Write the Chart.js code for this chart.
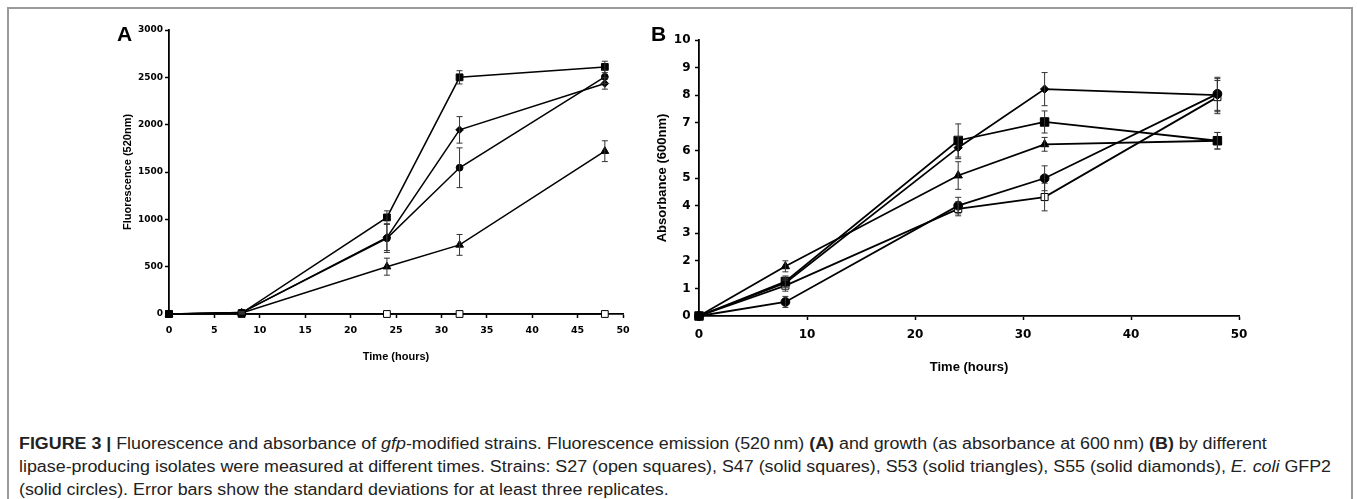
<!DOCTYPE html>
<html>
<head>
<meta charset="utf-8">
<script src="https://cdn.jsdelivr.net/npm/chart.js@4.4.1/dist/chart.umd.min.js"></script>
<style>
  html, body { margin: 0; padding: 0; background: #fff; width: 1357px; height: 499px; overflow: hidden; }
  #frame { position: absolute; left: 7px; top: 7px; width: 1346px; height: 520px; border: 2px solid #9a9a9a; box-sizing: border-box; }
  .panel { position: absolute; top: 0; height: 390px; }
  #wrapA { left: 100px; width: 560px; }
  #wrapB { left: 640px; width: 640px; }
  .plabel { position: absolute; font-family: "Liberation Sans", Arial, sans-serif; font-weight: bold; font-size: 21px; color: #000; line-height: 1; }
  .cap { position: absolute; left: 19px; white-space: nowrap; font-family: "Liberation Sans", Arial, sans-serif; font-size: 16px; color: #222; transform-origin: 0 0; line-height: 1; }
</style>
</head>
<body>
<div id="frame"></div>
<div class="panel" id="wrapA"><canvas id="chartA"></canvas></div>
<div class="panel" id="wrapB"><canvas id="chartB"></canvas></div>
<div class="plabel" style="left:117px; top:23px;">A</div>
<div class="plabel" style="left:651px; top:23px;">B</div>
<div class="cap" id="cap1" style="top:436px;"><b>FIGURE 3 |</b> Fluorescence and absorbance of <i>gfp</i>-modified strains. Fluorescence emission (520&#8201;nm) <b>(A)</b> and growth (as absorbance at 600&#8201;nm) <b>(B)</b> by different</div>
<div class="cap" id="cap2" style="top:459px;">lipase-producing isolates were measured at different times. Strains: S27 (open squares), S47 (solid squares), S53 (solid triangles), S55 (solid diamonds), <i>E. coli</i> GFP2</div>
<div class="cap" id="cap3" style="top:482px;">(solid circles). Error bars show the standard deviations for at least three replicates.</div>
<script>
// ---------- data ----------
const times = [0, 8, 24, 32, 48];

// Panel A: fluorescence (520 nm)
const fluoS27   = [0, 0, 0, 0, 0];
const fluoS27Err = [0, 0, 0, 0, 0];
const fluoS47   = [0, 10, 1020, 2500, 2610];
const fluoS47Err = [0, 10, 70, 70, 60];
const fluoS53   = [0, 10, 500, 730, 1720];
const fluoS53Err = [0, 10, 90, 110, 110];
const fluoS55   = [0, 15, 810, 1945, 2435];
const fluoS55Err = [0, 10, 140, 140, 60];
const fluoEcoli = [0, 15, 800, 1545, 2505];
const fluoEcoliErr = [0, 10, 150, 210, 70];

// Panel B: absorbance (600 nm)
const absS27   = [0, 1.1, 3.88, 4.31, 7.93];
const absS27Err = [0, 0.2, 0.25, 0.5, 0.6];
const absS47   = [0, 1.25, 6.36, 7.03, 6.35];
const absS47Err = [0, 0.2, 0.6, 0.4, 0.3];
const absS53   = [0, 1.8, 5.09, 6.22, 6.35];
const absS53Err = [0, 0.2, 0.5, 0.25, 0.3];
const absS55   = [0, 1.2, 6.1, 8.22, 8.0];
const absS55Err = [0, 0.15, 0.4, 0.6, 0.6];
const absEcoli = [0, 0.51, 4.0, 4.99, 8.05];
const absEcoliErr = [0, 0.2, 0.3, 0.45, 0.6];

// ---------- helpers ----------
function pts(ys) { return times.map((t, i) => ({x: t, y: ys[i]})); }

const errorBarPlugin = {
  id: 'errorBars',
  afterDatasetsDraw(chart, args, opts) {
    const ctx = chart.ctx;
    const xs = chart.scales.x, ys = chart.scales.y;
    ctx.save();
    ctx.strokeStyle = '#333';
    ctx.lineWidth = 1;
    chart.data.datasets.forEach(ds => {
      if (!ds.errors) return;
      ds.data.forEach((p, i) => {
        const e = ds.errors[i];
        if (!e) return;
        const px = xs.getPixelForValue(p.x);
        const top = ys.getPixelForValue(p.y + e);
        const bot = ys.getPixelForValue(Math.max(0, p.y - e));
        const w = opts.cap || 3;
        ctx.beginPath();
        ctx.moveTo(px, top); ctx.lineTo(px, bot);
        ctx.moveTo(px - w, top); ctx.lineTo(px + w, top);
        ctx.moveTo(px - w, bot); ctx.lineTo(px + w, bot);
        ctx.stroke();
      });
    });
    ctx.restore();
  }
};

function ds(label, ys, errs, style, radius, open, order, lw) {
  return {
    label, data: pts(ys), errors: errs,
    borderColor: '#000', borderWidth: lw,
    pointStyle: style, pointRadius: radius, pointHoverRadius: radius,
    pointBackgroundColor: open ? '#fff' : '#000',
    pointBorderColor: '#000', pointBorderWidth: 1,
    tension: 0, fill: false, clip: false, order
  };
}

function axisCfg(min, max, step, tickFont, pad, title, titleFont, titlePad, fixedSize, horiz) {
  return {
    type: 'linear', min, max,
    ticks: { stepSize: step, color: '#000', font: tickFont, padding: pad, callback: (v) => String(v) },
    grid: { display: true, drawOnChartArea: false, drawTicks: true, tickLength: 4, tickColor: '#000', tickWidth: 1.5, color: '#000' },
    border: { display: true, color: '#000', width: 1.8 },
    title: { display: true, text: title, color: '#000', font: titleFont, padding: titlePad },
    afterFit: (s) => { if (horiz) s.height = fixedSize; else s.width = fixedSize; }
  };
}

Chart.defaults.animation = false;

// ---------- chart A ----------
new Chart(document.getElementById('chartA'), {
  type: 'line',
  data: {
    datasets: [
      ds('S47', fluoS47, fluoS47Err, 'rect', 4.8, false, 1, 1.5),
      ds('S55', fluoS55, fluoS55Err, 'rectRot', 3.8, false, 2, 1.5),
      ds('E. coli GFP2', fluoEcoli, fluoEcoliErr, 'circle', 3.4, false, 3, 1.5),
      ds('S53', fluoS53, fluoS53Err, 'triangle', 4.5, false, 4, 1.5),
      ds('S27', fluoS27, fluoS27Err, 'rect', 4.8, true, 5, 1.5)
    ]
  },
  options: {
    responsive: true, maintainAspectRatio: false, animation: false,
    layout: { padding: { left: 0, right: 37, top: 30, bottom: 0 } },
    plugins: { legend: { display: false }, tooltip: { enabled: false }, errorBars: { cap: 3 } },
    scales: {
      x: axisCfg(0, 50, 5, {family: 'DejaVu Sans', weight: 'bold', size: 9.5}, 7, 'Time (hours)',
                 {family: 'Liberation Sans', weight: 'bold', size: 11}, {top: 0, bottom: 26}, 76, true),
      y: axisCfg(0, 3000, 500, {family: 'DejaVu Sans', weight: 'bold', size: 9}, 2, 'Fluorescence (520nm)',
                 {family: 'Liberation Sans', weight: 'bold', size: 11}, {top: 21, bottom: 0}, 69, false)
    }
  },
  plugins: [errorBarPlugin]
});

// ---------- chart B ----------
new Chart(document.getElementById('chartB'), {
  type: 'line',
  data: {
    datasets: [
      ds('S47', absS47, absS47Err, 'rect', 6, false, 2, 1.8),
      ds('S55', absS55, absS55Err, 'rectRot', 4.2, false, 3, 1.8),
      ds('E. coli GFP2', absEcoli, absEcoliErr, 'circle', 4.4, false, 1, 1.8),
      ds('S53', absS53, absS53Err, 'triangle', 4.8, false, 4, 1.8),
      ds('S27', absS27, absS27Err, 'rect', 5, true, 5, 1.8)
    ]
  },
  options: {
    responsive: true, maintainAspectRatio: false, animation: false,
    layout: { padding: { left: 0, right: 41, top: 40, bottom: 0 } },
    plugins: { legend: { display: false }, tooltip: { enabled: false }, errorBars: { cap: 3 } },
    scales: {
      x: axisCfg(0, 50, 10, {family: 'DejaVu Sans', weight: 'bold', size: 12}, 8, 'Time (hours)',
                 {family: 'Liberation Sans', weight: 'bold', size: 13}, {top: 0, bottom: 15}, 74, true),
      y: axisCfg(0, 10, 1, {family: 'DejaVu Sans', weight: 'bold', size: 12}, 4.5, 'Absorbance (600nm)',
                 {family: 'Liberation Sans', weight: 'bold', size: 13}, {top: 15, bottom: 0}, 59, false)
    }
  },
  plugins: [errorBarPlugin]
});

// ---------- fit caption lines to the reference width ----------
(function () {
  const l2 = document.getElementById('cap2');
  const w = l2.getBoundingClientRect().width;
  const s = 1312 / w;
  ['cap1', 'cap2', 'cap3'].forEach(id => {
    document.getElementById(id).style.transform = 'scaleX(' + s + ')';
  });
})();
</script>
</body>
</html>
